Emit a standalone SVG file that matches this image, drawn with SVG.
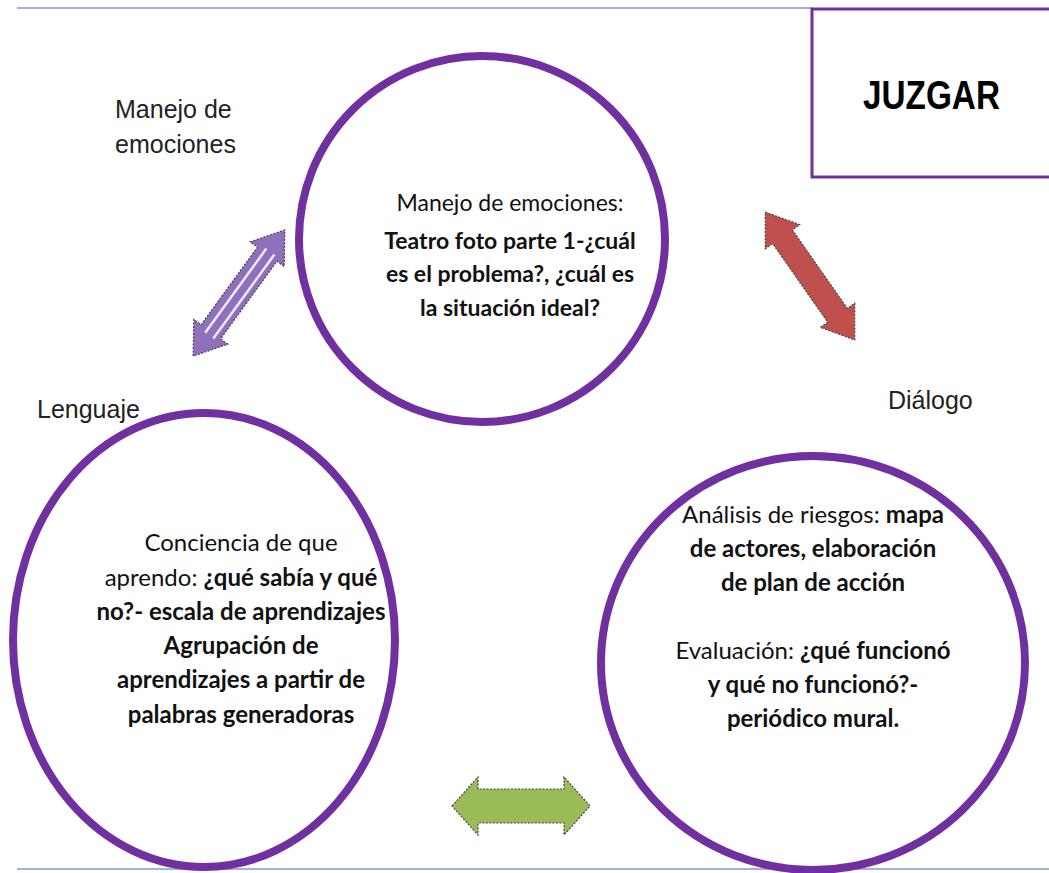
<svg xmlns="http://www.w3.org/2000/svg" width="1049" height="873" viewBox="0 0 1049 873">
<style>
.circ{fill:none;stroke:#7030a0;stroke-width:8}
.lbl{font-family:"Liberation Sans",Arial,sans-serif;font-size:25px;fill:#222}
.ct{font-family:Lato,"Open Sans",sans-serif;font-size:24px;fill:#111;text-anchor:middle}
.b{font-weight:bold}
.arr{stroke:#444;stroke-width:1.2;stroke-dasharray:2 1.5}
.rule{stroke:#a3b5cc;stroke-width:2}
</style>
<defs>
<polygon id="dbl" points="-78,0 -48,-21 -48,-12 48,-12 48,-21 78,0 48,21 48,12 -48,12 -48,21"/>
</defs>
<line class="rule" x1="17" y1="8" x2="812" y2="8"/>
<line class="rule" x1="17" y1="869" x2="1049" y2="869"/>
<g id="juzgar">
<rect x="812" y="9" width="240" height="168" fill="#fff" stroke="#7030a0" stroke-width="3"/>
<text x="863" y="109" textLength="137" lengthAdjust="spacingAndGlyphs" style="font-family:'Liberation Sans Narrow','Liberation Sans',sans-serif;font-weight:bold;font-size:41px" fill="#000">JUZGAR</text>
</g>
<g id="top-circle">
<circle class="circ" cx="482" cy="239" r="183"/>
<text class="ct" style="font-size:23px"><tspan x="510" y="211">Manejo de emociones:</tspan><tspan class="b" x="510" y="249">Teatro foto parte 1-¿cuál</tspan><tspan class="b" x="510" y="282">es el problema?, ¿cuál es</tspan><tspan class="b" x="510" y="316">la situación ideal?</tspan></text>
</g>
<g id="left-circle">
<ellipse class="circ" cx="204" cy="640" rx="191" ry="227"/>
<text class="ct"><tspan x="241" y="551">Conciencia de que</tspan><tspan x="241" y="586">aprendo: <tspan class="b">¿qué sabía y qué</tspan></tspan><tspan class="b" x="241" y="620">no?- escala de aprendizajes</tspan><tspan class="b" x="241" y="654">Agrupación de</tspan><tspan class="b" x="241" y="688">aprendizajes a partir de</tspan><tspan class="b" x="241" y="723">palabras generadoras</tspan></text>
</g>
<g id="right-circle">
<ellipse class="circ" cx="813" cy="663" rx="212" ry="207"/>
<text class="ct"><tspan x="813" y="523">Análisis de riesgos: <tspan class="b">mapa</tspan></tspan><tspan class="b" x="813" y="557">de actores, elaboración</tspan><tspan class="b" x="813" y="591">de plan de acción</tspan><tspan x="813" y="659">Evaluación: <tspan class="b">¿qué funcionó</tspan></tspan><tspan class="b" x="813" y="693">y qué no funcionó?-</tspan><tspan class="b" x="813" y="727">periódico mural.</tspan></text>
</g>
<g id="labels">
<text class="lbl" x="115" y="118">Manejo de</text>
<text class="lbl" x="115" y="153">emociones</text>
<text class="lbl" x="37" y="418">Lenguaje</text>
<text class="lbl" x="888" y="409">Diálogo</text>
</g>
<g id="connectors">
<g transform="translate(239,293) rotate(-54)">
<use href="#dbl" class="arr" fill="#8e70bd"/>
<line x1="-52" y1="-4" x2="52" y2="-4" stroke="#fff" stroke-width="2.5" opacity="0.85"/>
<line x1="-52" y1="6" x2="52" y2="6" stroke="#fff" stroke-width="2.5" opacity="0.85"/>
</g>
<g transform="translate(810,276) rotate(55)">
<use href="#dbl" class="arr" fill="#c0504d"/>
</g>
<g transform="translate(521,806)">
<polygon class="arr" fill="#9bbb59" points="-69,0 -43,-29 -43,-17 43,-17 43,-29 69,0 43,29 43,17 -43,17 -43,29"/>
</g>
</g>
</svg>
